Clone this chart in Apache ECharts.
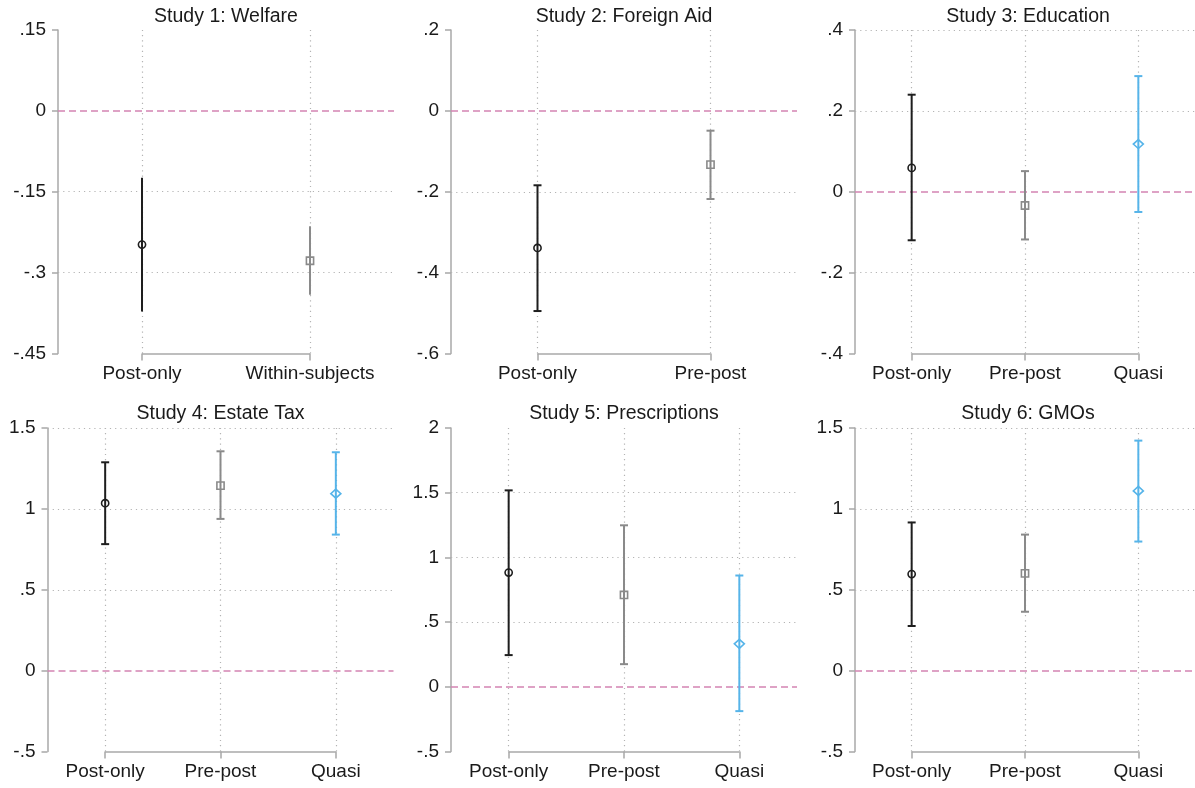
<!DOCTYPE html>
<html>
<head>
<meta charset="utf-8">
<title>Treatment effects by study design</title>
<script src="https://cdn.jsdelivr.net/npm/echarts@6/dist/echarts.min.js"></script>
<style>
  html, body { margin: 0; padding: 0; background: #fff; }
  #chart { width: 1195px; height: 788px; }
</style>
</head>
<body>
<div id="chart"></div>
<script>
// ---- data ----------------------------------------------------------------
const studyTitles = [
  'Study 1: Welfare', 'Study 2: Foreign Aid', 'Study 3: Education',
  'Study 4: Estate Tax', 'Study 5: Prescriptions', 'Study 6: GMOs'
];
const designs = [
  ['Post-only', 'Within-subjects'],
  ['Post-only', 'Pre-post'],
  ['Post-only', 'Pre-post', 'Quasi'],
  ['Post-only', 'Pre-post', 'Quasi'],
  ['Post-only', 'Pre-post', 'Quasi'],
  ['Post-only', 'Pre-post', 'Quasi']
];
// point estimates and 95% confidence bounds, one array per study
const estimates = [
  [-0.248, -0.278],
  [-0.339, -0.133],
  [0.059, -0.034, 0.118],
  [1.035, 1.144, 1.094],
  [0.883, 0.710, 0.332],
  [0.597, 0.601, 1.111]
];
const lowerCI = [
  [-0.372, -0.341],
  [-0.495, -0.218],
  [-0.120, -0.118, -0.050],
  [0.782, 0.938, 0.841],
  [0.245, 0.175, -0.188],
  [0.276, 0.364, 0.798]
];
const upperCI = [
  [-0.124, -0.214],
  [-0.184, -0.049],
  [0.240, 0.051, 0.286],
  [1.288, 1.356, 1.350],
  [1.518, 1.248, 0.860],
  [0.916, 0.841, 1.422]
];
// y-axis scale per study
const yMin  = [-0.45, -0.6, -0.4, -0.5, -0.5, -0.5];
const yMax  = [0.15, 0.2, 0.4, 1.5, 2, 1.5];
const yStep = [0.15, 0.2, 0.2, 0.5, 0.5, 0.5];

// ---- layout & style ------------------------------------------------------
const gridLeft  = [58, 451, 855, 47.5, 451, 855];
const gridWidth = [336, 346, 346, 346, 346, 346];
const gridTop   = [30, 30, 30, 428, 428, 428];
const gridH     = 323.5;
const titleY    = [17, 17, 17, 414, 414, 414];
const drawCaps  = [false, true, true, true, true, true];
const topGridline = [false, false, true, true, false, true];

const designColors = ['#1e1e1e', '#8a8a8a', '#56b4e9'];
const axisGray = '#a8a8a8';
const gridGray = '#b4b4b4';
const zeroPink = '#d484b2';
const textColor = '#1a1a1a';
const FONT = '"Liberation Sans", Arial, sans-serif';

// Stata-like tick labels: ".15", "-.3", "1.5"
function fmtTick(v) {
  const s = String(+(+v).toFixed(3));
  if (s === '-0') return '0';
  return s.replace(/^(-?)0\./, '$1.');
}

function ticksOf(i) {
  const out = [];
  const n = Math.round((yMax[i] - yMin[i]) / yStep[i]);
  for (let k = 0; k <= n; k++) out.push(+(yMin[i] + k * yStep[i]).toFixed(4));
  return out;
}

const grids = [], xAxes = [], yAxes = [], series = [], graphics = [];

studyTitles.forEach((title, i) => {
  const cats = designs[i];
  grids.push({ left: gridLeft[i], top: gridTop[i], width: gridWidth[i], height: gridH, containLabel: false });

  xAxes.push({
    gridIndex: i, type: 'category', data: cats, boundaryGap: true,
    axisLine: { show: false, onZero: false },
    axisTick: { show: true, alignWithLabel: true, length: 7, lineStyle: { color: axisGray, width: 1.5 } },
    axisLabel: { margin: 11, fontSize: 19, color: textColor, fontFamily: FONT, interval: 0 },
    splitLine: { show: false }
  });

  yAxes.push({
    gridIndex: i, type: 'value', min: yMin[i], max: yMax[i], interval: yStep[i],
    axisLine: { show: true, lineStyle: { color: axisGray, width: 1.5 } },
    axisTick: { show: true, length: 6, lineStyle: { color: axisGray, width: 1.5 } },
    axisLabel: { margin: 12, fontSize: 19, color: textColor, fontFamily: FONT, formatter: fmtTick },
    splitLine: { show: false }
  });

  // reference lines: dotted grid, dashed zero line, x baseline between outer categories
  const dotted = { color: gridGray, type: [1.2, 4], width: 1.2 };
  const hLines = ticksOf(i)
    .filter(v => Math.abs(v) > 1e-9 && Math.abs(v - yMin[i]) > 1e-9 && (topGridline[i] || Math.abs(v - yMax[i]) > 1e-9))
    .map(v => ({ yAxis: v, lineStyle: dotted }));
  const vLines = cats.map(c => ({ xAxis: c, lineStyle: dotted }));

  series.push({
    type: 'line', xAxisIndex: i, yAxisIndex: i, data: [], silent: true, z: 1,
    markLine: {
      silent: true, symbol: 'none', animation: false,
      label: { show: false },
      data: hLines.concat(vLines)
    }
  });
  series.push({
    type: 'line', xAxisIndex: i, yAxisIndex: i, data: [], silent: true, z: 2,
    markLine: {
      silent: true, symbol: 'none', animation: false,
      label: { show: false },
      data: [
        { yAxis: 0, lineStyle: { color: zeroPink, type: [7, 4], width: 1.5 } },
        [
          { coord: [cats[0], yMin[i]], lineStyle: { color: axisGray, type: 'solid', width: 1.5 } },
          { coord: [cats[cats.length - 1], yMin[i]] }
        ]
      ]
    }
  });

  // confidence intervals with hollow markers
  const rows = cats.map((c, k) => [k, estimates[i][k], lowerCI[i][k], upperCI[i][k]]);
  const caps = drawCaps[i];
  series.push({
    type: 'custom', xAxisIndex: i, yAxisIndex: i, z: 5, silent: true,
    encode: { x: 0, y: 1 },
    data: rows,
    renderItem: function (params, api) {
      const k = api.value(0);
      const color = designColors[k];
      const p  = api.coord([k, api.value(1)]);
      const lo = api.coord([k, api.value(2)]);
      const hi = api.coord([k, api.value(3)]);
      const line = { stroke: color, lineWidth: 2, fill: null };
      const children = [
        { type: 'line', shape: { x1: p[0], y1: hi[1], x2: p[0], y2: lo[1] }, style: line }
      ];
      if (caps) {
        children.push({ type: 'line', shape: { x1: p[0] - 4, y1: hi[1], x2: p[0] + 4, y2: hi[1] }, style: line });
        children.push({ type: 'line', shape: { x1: p[0] - 4, y1: lo[1], x2: p[0] + 4, y2: lo[1] }, style: line });
      }
      const mk = { stroke: color, lineWidth: 1.6, fill: 'rgba(0,0,0,0)' };
      if (k === 0) {
        children.push({ type: 'circle', shape: { cx: p[0], cy: p[1], r: 3.6 }, style: mk });
      } else if (k === 1) {
        children.push({ type: 'rect', shape: { x: p[0] - 3.6, y: p[1] - 3.6, width: 7.2, height: 7.2 }, style: mk });
      } else {
        children.push({ type: 'polygon', shape: { points: [[p[0], p[1] - 4.5], [p[0] + 5, p[1]], [p[0], p[1] + 4.5], [p[0] - 5, p[1]]] }, style: mk });
      }
      return { type: 'group', children: children };
    }
  });

  graphics.push({
    type: 'text',
    x: gridLeft[i] + gridWidth[i] / 2, y: titleY[i],
    style: { text: title, fill: textColor, font: '19.5px ' + FONT, textAlign: 'center', textVerticalAlign: 'middle' }
  });
});

const chart = echarts.init(document.getElementById('chart'), null, { renderer: 'canvas' });
chart.setOption({
  backgroundColor: '#ffffff',
  animation: false,
  grid: grids,
  xAxis: xAxes,
  yAxis: yAxes,
  series: series,
  graphic: graphics
});
</script>
</body>
</html>
